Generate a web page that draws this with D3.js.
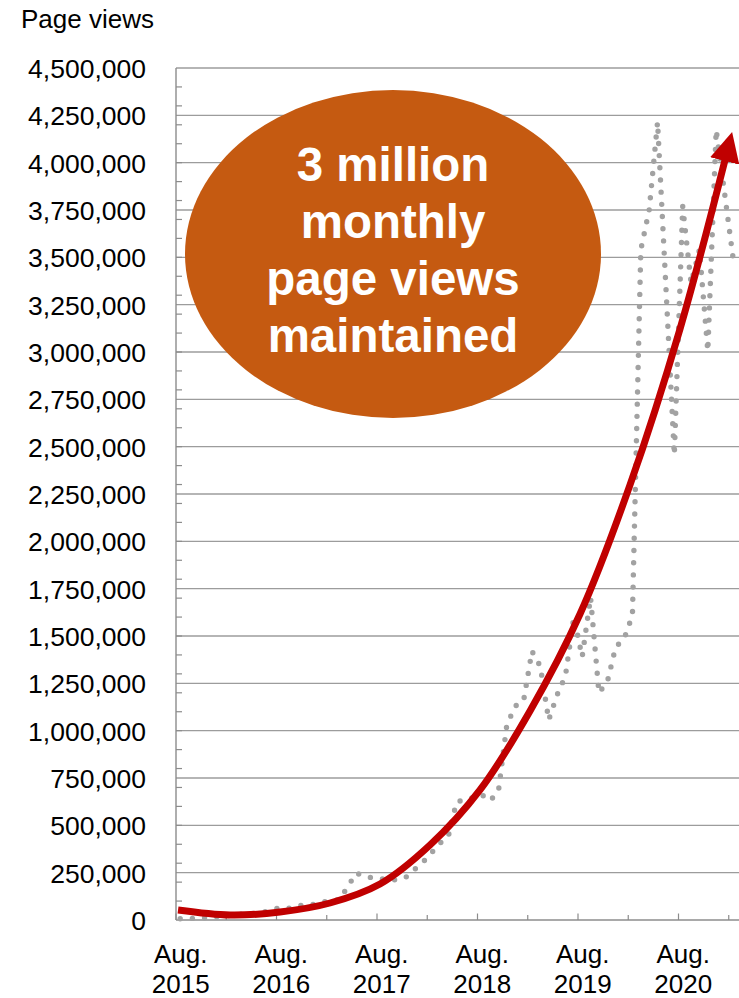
<!DOCTYPE html>
<html>
<head>
<meta charset="utf-8">
<script src="https://cdn.jsdelivr.net/npm/d3@7"></script>
<style>
  html, body { margin: 0; padding: 0; background: #ffffff; }
  svg { display: block; font-family: "Liberation Sans", Arial, sans-serif; }
</style>
</head>
<body>
<div id="chart"></div>
<script>
// Monthly page views, Aug. 2015 – Feb. 2021
const months = [
  "2015-08","2015-09","2015-10","2015-11","2015-12",
  "2016-01","2016-02","2016-03","2016-04","2016-05","2016-06","2016-07","2016-08","2016-09","2016-10","2016-11","2016-12",
  "2017-01","2017-02","2017-03","2017-04","2017-05","2017-06","2017-07","2017-08","2017-09","2017-10","2017-11","2017-12",
  "2018-01","2018-02","2018-03","2018-04","2018-05","2018-06","2018-07","2018-08","2018-09","2018-10","2018-11","2018-12",
  "2019-01","2019-02","2019-03","2019-04","2019-05","2019-06","2019-07","2019-08","2019-09","2019-10","2019-11","2019-12",
  "2020-01","2020-02","2020-03","2020-04","2020-05","2020-06","2020-07","2020-08","2020-09","2020-10","2020-11","2020-12",
  "2021-01","2021-02"
];
const pageViews = [
  7000, 7000, 10000, 12000, 16000,
  20000, 25000, 30000, 33000, 36000, 42000, 58000, 64000, 62000, 75000, 80000, 82000,
  95000, 99000, 108000, 175000, 248000, 232000, 222000, 217000, 212000, 212000, 228000, 268000,
  306000, 354000, 405000, 440000, 624000, 634000, 647000, 662000, 630000, 680000, 1030000, 1130000,
  1157000, 1420000, 1340000, 1056000, 1188000, 1289000, 1600000, 1390000, 1705000, 1200000, 1257000, 1442000,
  1484000, 1610000, 3540000, 3750000, 4215000, 3340000, 2456000, 3770000, 3364000, 3540000, 3005000, 4173000,
  3840000, 3502000
];

// Growth arrow: positions in months from Aug. 2015, and values
const trendPos    = [0.24, 6.45, 12.42, 18.39, 24.36, 30.33, 36.3, 42.27, 48.24, 54.21, 60.18, 65.55];
const trendValues = [52800, 26400, 42300, 89800, 190000, 396000, 687000, 1104000, 1616000, 2298000, 3122000, 4014000];

// Axis ticks and labels
const yTicks = [0, 250000, 500000, 750000, 1000000, 1250000, 1500000, 1750000, 2000000, 2250000,
  2500000, 2750000, 3000000, 3250000, 3500000, 3750000, 4000000, 4250000, 4500000];
const yMinorStep = 100000;
const xTickMonths = [0, 6, 12, 18, 24, 30, 36, 42, 48, 54, 60, 66];
const xLabelMonths = [0, 12, 24, 36, 48, 60];
const xLabels = [["Aug.", "2015"], ["Aug.", "2016"], ["Aug.", "2017"], ["Aug.", "2018"], ["Aug.", "2019"], ["Aug.", "2020"]];
const yTitle = "Page views";
const calloutLines = ["3 million", "monthly", "page views", "maintained"];

const W = 739, H = 998;
const plotLeft = 176, plotTop = 68, plotBottom = 920;
const monthW = 8.375;
const plotMonths = 68;

const svg = d3.select("#chart").append("svg")
  .attr("width", W).attr("height", H).attr("viewBox", `0 0 ${W} ${H}`);

const x = d3.scaleLinear().domain([0, plotMonths]).range([plotLeft, plotLeft + plotMonths * monthW]);
const y = d3.scaleLinear().domain([0, 4500000]).range([plotBottom, plotTop]);
const plotRight = x(plotMonths);

function monthIndex(s) {
  const [yy, mm] = s.split("-").map(Number);
  return (yy - 2015) * 12 + (mm - 8);
}

// horizontal gridlines
svg.append("g").selectAll("line").data(yTicks.filter(d => d > 0)).join("line")
  .attr("x1", plotLeft).attr("x2", plotRight)
  .attr("y1", d => y(d)).attr("y2", d => y(d))
  .attr("stroke", "#9c9c9c").attr("stroke-width", 1.3);

// minor ticks on the value axis
const minor = [];
for (let v = yMinorStep; v < 4500000; v += yMinorStep) minor.push(v);
svg.append("g").selectAll("line").data(minor).join("line")
  .attr("x1", plotLeft).attr("x2", plotLeft + 6)
  .attr("y1", d => y(d)).attr("y2", d => y(d))
  .attr("stroke", "#8c8c8c").attr("stroke-width", 1.2);

// axis lines
svg.append("line").attr("x1", plotLeft).attr("x2", plotLeft).attr("y1", plotTop).attr("y2", plotBottom)
  .attr("stroke", "#8c8c8c").attr("stroke-width", 1.4);
svg.append("line").attr("x1", plotLeft).attr("x2", plotRight).attr("y1", plotBottom).attr("y2", plotBottom)
  .attr("stroke", "#8c8c8c").attr("stroke-width", 1.4);

// tick marks on the time axis
svg.append("g").selectAll("line").data(xTickMonths).join("line")
  .attr("x1", d => x(d)).attr("x2", d => x(d))
  .attr("y1", plotBottom).attr("y2", d => plotBottom - (d % 12 === 0 ? 6.5 : 5))
  .attr("stroke", "#8c8c8c").attr("stroke-width", 1.2);

// value axis labels
const yAxis = d3.axisLeft(y).tickValues(yTicks).tickSize(0).tickPadding(30)
  .tickFormat(d3.format(","));
const gy = svg.append("g").attr("transform", `translate(${plotLeft},0)`).call(yAxis);
gy.select(".domain").remove();
gy.selectAll("text").attr("font-size", 26.5).attr("fill", "#000")
  .attr("font-family", "Liberation Sans, Arial, sans-serif").attr("dy", "0.36em");

// time axis labels (two lines)
const xAxis = d3.axisBottom(x).tickValues(xLabelMonths.map(m => m + 0.5)).tickSize(0).tickFormat(() => "");
const gx = svg.append("g").attr("transform", `translate(0,${plotBottom})`).call(xAxis);
gx.select(".domain").remove();
gx.selectAll(".tick text").each(function (d, i) {
  const t = d3.select(this).attr("y", 0).attr("dy", null)
    .attr("font-size", 26).attr("fill", "#000")
    .attr("font-family", "Liberation Sans, Arial, sans-serif");
  t.text(null);
  t.append("tspan").attr("x", 0).attr("y", 43).text(xLabels[i][0]);
  t.append("tspan").attr("x", 0).attr("y", 72.5).text(xLabels[i][1]);
});

// axis title
svg.append("text").attr("x", 21).attr("y", 28).attr("font-size", 26).attr("fill", "#000").text(yTitle);

// monthly page views as a round-dotted line
const line = d3.line()
  .x((d, i) => x(monthIndex(months[i]) + 0.5))
  .y(d => y(d));
svg.append("path").datum(pageViews)
  .attr("d", line)
  .attr("fill", "none").attr("stroke", "#a2a2a2").attr("stroke-width", 5.4)
  .attr("stroke-linecap", "round").attr("stroke-linejoin", "round")
  .attr("stroke-dasharray", "0 12.2");

// growth arrow
const defs = svg.append("defs");
defs.append("marker").attr("id", "arrowHead")
  .attr("markerUnits", "userSpaceOnUse")
  .attr("viewBox", "0 0 30 30").attr("refX", 1).attr("refY", 15)
  .attr("markerWidth", 30).attr("markerHeight", 30).attr("orient", "auto")
  .append("path").attr("d", "M0,0 L30,15 L0,30 Z").attr("fill", "#c00000");

const trendLine = d3.line()
  .x((d, i) => x(trendPos[i]))
  .y(d => y(d))
  .curve(d3.curveCatmullRom.alpha(0.5));
svg.append("path").datum(trendValues)
  .attr("d", trendLine)
  .attr("fill", "none").attr("stroke", "#c00000").attr("stroke-width", 7)
  .attr("marker-end", "url(#arrowHead)");

// callout
const cx = 393, cy = 254;
svg.append("ellipse").attr("cx", cx).attr("cy", cy).attr("rx", 208).attr("ry", 164)
  .attr("fill", "#c55a11");
svg.append("g").selectAll("text").data(calloutLines).join("text")
  .attr("x", cx).attr("y", (d, i) => 181 + i * 57)
  .attr("text-anchor", "middle").attr("font-size", 47.5).attr("font-weight", "bold")
  .attr("fill", "#ffffff").text(d => d);
</script>
</body>
</html>
